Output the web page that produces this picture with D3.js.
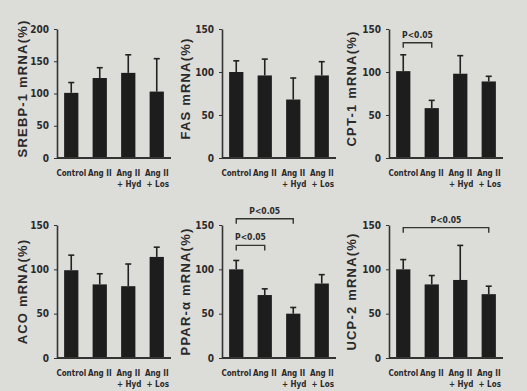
<!DOCTYPE html>
<html>
<head>
<meta charset="utf-8">
<script src="https://cdn.jsdelivr.net/npm/d3@7"></script>
<style>
  body { margin: 0; background: #dcdcd9; }
  svg { display: block; }
  text { fill: #2a2a2a; }
</style>
</head>
<body>
<svg id="chart" width="527" height="391"></svg>
<script>
// groups on the x axis (two label lines each)
const groups = ["Control", "Ang II", "Ang II + Hyd", "Ang II + Los"];
const groupLines = [["Control"], ["Ang II"], ["Ang II", "+ Hyd"], ["Ang II", "+ Los"]];

// panel titles, in reading order
const titles = ["SREBP-1 mRNA(%)", "FAS mRNA(%)", "CPT-1 mRNA(%)",
                "ACO mRNA(%)", "PPAR-\u03b1 mRNA(%)", "UCP-2 mRNA(%)"];
const yMax = [200, 150, 150, 150, 150, 150];

// means and error bars (% of control)
const srebp = [101, 124, 132, 103];
const srebpErr = [16, 16, 28, 51];
const fas = [100, 96, 68, 96];
const fasErr = [13, 19, 25, 16];
const cpt = [101, 58, 98, 89];
const cptErr = [19, 9, 21, 6];
const aco = [99, 83, 81, 114];
const acoErr = [17, 12, 25, 11];
const ppar = [100, 71, 50, 84];
const pparErr = [10, 7, 7, 10];
const ucp = [100, 83, 88, 72];
const ucpErr = [11, 10, 39, 9];

const means = [srebp, fas, cpt, aco, ppar, ucp];
const errs = [srebpErr, fasErr, cptErr, acoErr, pparErr, ucpErr];

// significance brackets: panel index, groups joined, bracket level (in %)
const sigs = [
  { panel: 2, a: 0, b: 1, level: 134, label: "P<0.05" },
  { panel: 4, a: 0, b: 1, level: 127, label: "P<0.05" },
  { panel: 4, a: 0, b: 2, level: 157, label: "P<0.05" },
  { panel: 5, a: 0, b: 3, level: 147, label: "P<0.05" }
];

const svg = d3.select("#chart");
const colX = [57, 222, 389];
const rowTop = [29, 225];
const rowBottom = [158, 358];
const titleDx = [-30, -32, -33];
const titleDy = [-5, 0];
const plotW = 114;
const narrow = "'Liberation Sans Narrow', 'DejaVu Sans Condensed', 'Arial Narrow', sans-serif";

titles.forEach((title, i) => {
  const col = i % 3, row = Math.floor(i / 3);
  const h = rowBottom[row] - rowTop[row];
  const g = svg.append("g")
    .attr("transform", "translate(" + colX[col] + "," + rowTop[row] + ")");

  const x = d3.scaleBand()
    .domain(groups)
    .range([0, plotW])
    .paddingInner(0.5)
    .paddingOuter(0.25);

  const y = d3.scaleLinear()
    .domain([0, yMax[i]])
    .range([h, 0]);

  // bars
  g.selectAll("rect.bar")
    .data(groups)
    .enter()
    .append("rect")
    .attr("class", "bar")
    .attr("x", d => x(d))
    .attr("y", (d, k) => y(means[i][k]))
    .attr("width", x.bandwidth())
    .attr("height", (d, k) => h - y(means[i][k]))
    .attr("fill", "#1d1d1d");

  // error bars (upper only)
  const eb = g.selectAll("g.err")
    .data(groups)
    .enter()
    .append("g")
    .attr("class", "err")
    .attr("stroke", "#222")
    .attr("stroke-width", 1.6);
  eb.append("line")
    .attr("x1", d => x(d) + x.bandwidth() / 2)
    .attr("x2", d => x(d) + x.bandwidth() / 2)
    .attr("y1", (d, k) => y(means[i][k]))
    .attr("y2", (d, k) => y(means[i][k] + errs[i][k]));
  eb.append("line")
    .attr("x1", d => x(d) + x.bandwidth() / 2 - 3)
    .attr("x2", d => x(d) + x.bandwidth() / 2 + 3)
    .attr("y1", (d, k) => y(means[i][k] + errs[i][k]))
    .attr("y2", (d, k) => y(means[i][k] + errs[i][k]));

  // y axis
  const yAxis = g.append("g")
    .call(d3.axisLeft(y).tickValues(d3.range(0, yMax[i] + 1, 50)).tickSize(3).tickPadding(5).tickSizeOuter(0));
  yAxis.select(".domain").attr("stroke", "#333").attr("stroke-width", 1.6);
  yAxis.selectAll(".tick line").attr("stroke", "#333");
  yAxis.selectAll(".tick text")
    .style("font-family", narrow)
    .style("font-weight", "bold")
    .style("font-size", "10px")
    .attr("fill", "#2a2a2a");

  // x axis baseline
  g.append("line")
    .attr("x1", 0).attr("x2", plotW)
    .attr("y1", h).attr("y2", h)
    .attr("stroke", "#333")
    .attr("stroke-width", 1.8);

  // category labels
  const cl = g.selectAll("text.cat")
    .data(groups)
    .enter()
    .append("text")
    .attr("class", "cat")
    .attr("text-anchor", "middle")
    .style("font-family", narrow)
    .style("font-weight", "bold")
    .style("font-size", "8px");
  cl.each(function(d, k) {
    const t = d3.select(this);
    groupLines[k].forEach((ln, j) => {
      t.append("tspan")
        .attr("x", x(d) + x.bandwidth() / 2 + (j === 1 ? 1 : 0))
        .attr("y", h + 18 + j * 11)
        .text(ln);
    });
  });

  // y axis title
  g.append("text")
    .attr("transform", "translate(" + titleDx[col] + "," + (h / 2 + titleDy[row]) + ") rotate(-90)")
    .attr("text-anchor", "middle")
    .attr("fill", "#3a3a3a")
    .style("font-family", "'Liberation Sans', Arial, sans-serif")
    .style("font-weight", "bold")
    .style("font-size", "13px")
    .style("letter-spacing", "1.2px")
    .text(title);

  // significance brackets
  sigs.filter(s => s.panel === i).forEach(s => {
    const xa = x(groups[s.a]) + x.bandwidth() / 2;
    const xb = x(groups[s.b]) + x.bandwidth() / 2;
    const yl = y(s.level);
    g.append("path")
      .attr("d", "M" + xa + "," + (yl + 5) + "V" + yl + "H" + xb + "V" + (yl + 5))
      .attr("fill", "none")
      .attr("stroke", "#333")
      .attr("stroke-width", 1.4);
    g.append("text")
      .attr("x", (xa + xb) / 2)
      .attr("y", yl - 5)
      .attr("text-anchor", "middle")
      .style("font-family", narrow)
      .style("font-weight", "bold")
      .style("font-size", "8.5px")
      .text(s.label);
  });
});
</script>
</body>
</html>
